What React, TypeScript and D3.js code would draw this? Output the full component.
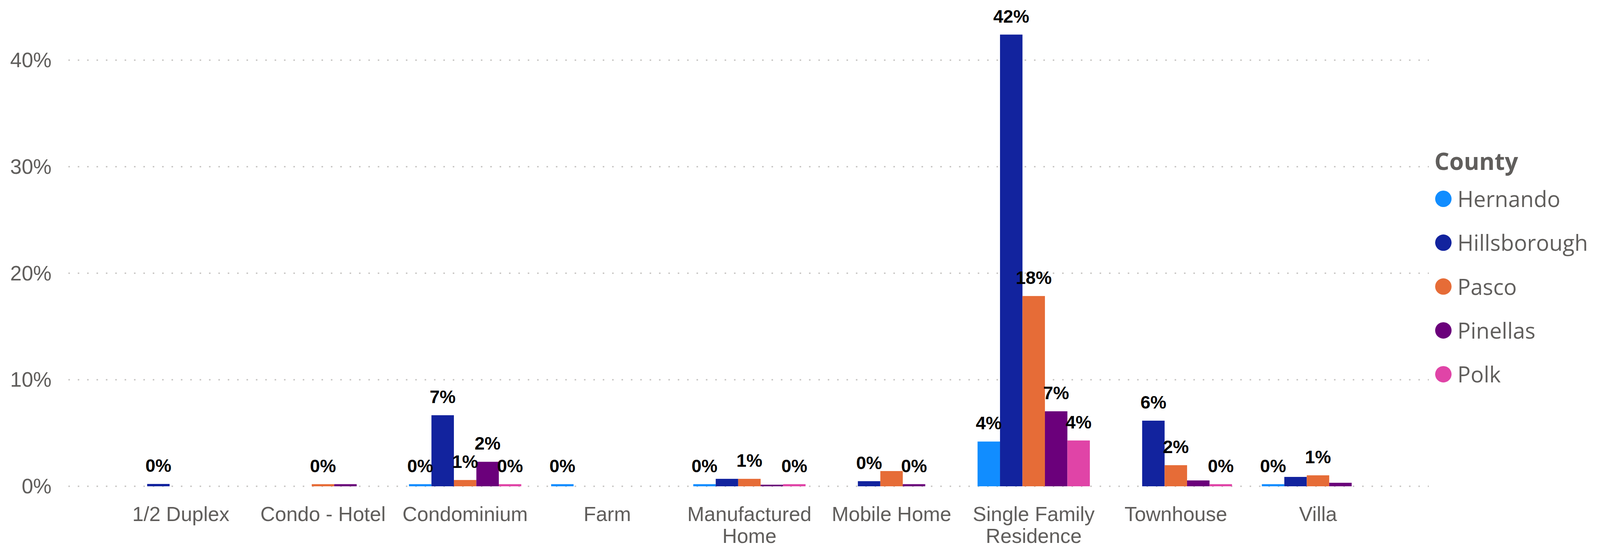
import React from "react";
import * as d3 from "d3";

const categories = ["1/2 Duplex", "Condo - Hotel", "Condominium", "Farm", "Manufactured Home", "Mobile Home", "Single Family Residence", "Townhouse", "Villa"];
const categoryLines = [["1/2 Duplex"], ["Condo - Hotel"], ["Condominium"], ["Farm"], ["Manufactured", "Home"], ["Mobile Home"], ["Single Family", "Residence"], ["Townhouse"], ["Villa"]];
const counties = ["Hernando", "Hillsborough", "Pasco", "Pinellas", "Polk"];
const countyColors = ["#118DFF", "#12239E", "#E66C37", "#6B007B", "#E044A7"];

// percent values (null = no bar)
const hernando = [null, null, 0.2, 0.2, 0.2, null, 4.2, null, 0.2];
const hillsborough = [0.22, null, 6.67, null, 0.7, 0.48, 42.4, 6.16, 0.88];
const pasco = [null, 0.2, 0.59, null, 0.7, 1.43, 17.86, 1.98, 1.03];
const pinellas = [null, 0.2, 2.3, null, 0.15, 0.2, 7.04, 0.55, 0.33];
const polk = [null, null, 0.2, null, 0.2, null, 4.3, 0.2, null];

// whether a data label is shown for each bar
const hernandoLabels = [false, false, true, true, true, false, true, false, true];
const hillsboroughLabels = [true, false, true, false, false, true, true, true, false];
const pascoLabels = [false, true, true, false, true, false, true, true, true];
const pinellasLabels = [false, false, true, false, false, true, true, false, false];
const polkLabels = [false, false, true, false, true, false, true, true, false];

const yTicks = [0, 10, 20, 30, 40];

const seriesValues = [hernando, hillsborough, pasco, pinellas, polk];
const seriesLabels = [hernandoLabels, hillsboroughLabels, pascoLabels, pinellasLabels, polkLabels];

const W = 4132;
const H = 1403;
const axisFont = "'Liberation Sans', Arial, sans-serif";
const legendFont = "'Segoe UI', 'Open Sans', sans-serif";
const gray = "#605E5C";

export default function App() {
  const x = d3.scaleBand<string>().domain(categories).range([281, 3556]).paddingInner(0.21).paddingOuter(0.105);
  const x1 = d3.scaleBand<string>().domain(counties).range([0, x.bandwidth()]).padding(0);
  const y = d3.scaleLinear().domain([0, 40]).range([1245, 154]);
  const fmt = d3.format(".0%");

  return (
    <svg width={W} height={H} style={{ position: "absolute", left: 0, top: 0, background: "#fff" }}>
      {/* gridlines */}
      {yTicks.map((t) => (
        <line key={"g" + t} x1={175} x2={3658} y1={y(t)} y2={y(t)} stroke="#C8C6C4" strokeWidth={3.5} strokeDasharray="4 20" />
      ))}
      {/* y tick labels */}
      {yTicks.map((t) => (
        <text key={"yl" + t} x={132} y={y(t) + 18} textAnchor="end" fontFamily={axisFont} fontSize={53} fill={gray}>
          {fmt(t / 100)}
        </text>
      ))}
      {/* bars */}
      {seriesValues.map((vals, si) =>
        vals.map((v, ci) =>
          v == null ? null : (
            <rect
              key={`b${si}-${ci}`}
              x={(x(categories[ci]) as number) + (x1(counties[si]) as number)}
              y={y(v)}
              width={x1.bandwidth()}
              height={y(0) - y(v)}
              fill={countyColors[si]}
            />
          )
        )
      )}
      {/* data labels */}
      {seriesValues.map((vals, si) =>
        vals.map((v, ci) =>
          v == null || !seriesLabels[si][ci] ? null : (
            <text
              key={`l${si}-${ci}`}
              x={(x(categories[ci]) as number) + (x1(counties[si]) as number) + x1.bandwidth() / 2}
              y={y(v) - 31}
              textAnchor="middle"
              fontFamily={axisFont}
              fontWeight="bold"
              fontSize={46}
              fill="#000"
            >
              {fmt(v / 100)}
            </text>
          )
        )
      )}
      {/* x axis labels */}
      {categories.map((c, ci) => (
        <text key={"xl" + c} x={(x(c) as number) + x.bandwidth() / 2} textAnchor="middle" fontFamily={axisFont} fontSize={52} fill={gray}>
          {categoryLines[ci].map((ln, li) => (
            <tspan key={li} x={(x(c) as number) + x.bandwidth() / 2} y={1334 + li * 56}>
              {ln}
            </tspan>
          ))}
        </text>
      ))}
      {/* legend */}
      <text x={3672} y={435} fontFamily={legendFont} fontWeight="bold" fontSize={60} fill={gray}>
        County
      </text>
      {counties.map((c, i) => (
        <g key={"lg" + c} transform={`translate(0, ${509 + i * 112.3})`}>
          <circle cx={3695} cy={0} r={21} fill={countyColors[i]} />
          <text x={3731} y={21} fontFamily={legendFont} fontSize={56} fill={gray}>
            {c}
          </text>
        </g>
      ))}
    </svg>
  );
}
